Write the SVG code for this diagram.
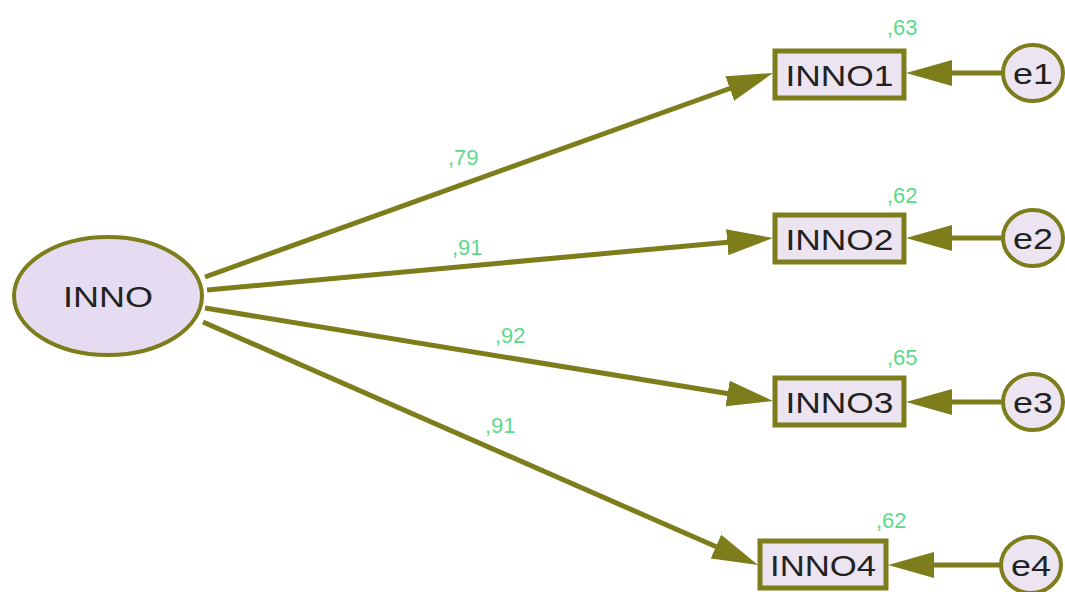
<svg xmlns="http://www.w3.org/2000/svg" width="1065" height="592" viewBox="0 0 1065 592">
<defs>
<style>
.node{stroke:#7d7d1c;fill:#ece4f0}
.lat{stroke-width:4;fill:#e6dcf2}
.obs{stroke-width:5}
.err{stroke-width:4}
.lbl{font-family:"Liberation Sans",Arial,sans-serif;fill:#222;text-anchor:middle}
.est{font-family:"Liberation Sans",Arial,sans-serif;font-size:22px;fill:#5ed98a}
.conn line{stroke:#7d7d1c;stroke-width:5;fill:none}
</style>
<marker id="ah" markerUnits="userSpaceOnUse" markerWidth="46" markerHeight="26" refX="6" refY="13" orient="auto" viewBox="0 0 46 26">
<path d="M0,0 L46,13 L0,26 Z" fill="#7d7d1c"/>
</marker>
</defs>
<rect width="1065" height="592" fill="#ffffff"/>
<g id="connectors" class="conn">
<line x1="205" y1="277" x2="735.4" y2="86.5" marker-end="url(#ah)"/>
<line x1="207" y1="290" x2="733.2" y2="241.7" marker-end="url(#ah)"/>
<line x1="205" y1="308" x2="733.5" y2="394.5" marker-end="url(#ah)"/>
<line x1="203" y1="322" x2="721.4" y2="549" marker-end="url(#ah)"/>
<line x1="1003" y1="73" x2="946" y2="73" marker-end="url(#ah)"/>
<line x1="1003" y1="238" x2="946" y2="238" marker-end="url(#ah)"/>
<line x1="1003" y1="402" x2="946" y2="402" marker-end="url(#ah)"/>
<line x1="1001" y1="565" x2="928" y2="565" marker-end="url(#ah)"/>
</g>
<g id="INNO">
<ellipse class="node lat" cx="108" cy="296" rx="94" ry="59"/>
<text class="lbl" x="108" y="307" font-size="30" textLength="90" lengthAdjust="spacingAndGlyphs">INNO</text>
</g>
<g id="INNO1">
<rect class="node obs" x="775" y="51" width="129" height="47"/>
<text class="lbl" x="839.5" y="86" font-size="30" textLength="108" lengthAdjust="spacingAndGlyphs">INNO1</text>
<text class="est" x="887" y="35">,63</text>
</g>
<g id="INNO2">
<rect class="node obs" x="775" y="215" width="129" height="47"/>
<text class="lbl" x="839.5" y="250" font-size="30" textLength="108" lengthAdjust="spacingAndGlyphs">INNO2</text>
<text class="est" x="887" y="203">,62</text>
</g>
<g id="INNO3">
<rect class="node obs" x="775" y="378" width="129" height="47"/>
<text class="lbl" x="839.5" y="413" font-size="30" textLength="108" lengthAdjust="spacingAndGlyphs">INNO3</text>
<text class="est" x="887" y="365">,65</text>
</g>
<g id="INNO4">
<rect class="node obs" x="760" y="541" width="126" height="47"/>
<text class="lbl" x="823" y="576" font-size="30" textLength="106" lengthAdjust="spacingAndGlyphs">INNO4</text>
<text class="est" x="876" y="528">,62</text>
</g>
<g id="e1">
<ellipse class="node err" cx="1033" cy="73" rx="30" ry="28"/>
<text class="lbl" x="1033" y="84" font-size="30" textLength="40" lengthAdjust="spacingAndGlyphs">e1</text>
</g>
<g id="e2">
<ellipse class="node err" cx="1033" cy="238" rx="30" ry="28"/>
<text class="lbl" x="1033" y="249" font-size="30" textLength="40" lengthAdjust="spacingAndGlyphs">e2</text>
</g>
<g id="e3">
<ellipse class="node err" cx="1033" cy="402" rx="30" ry="28"/>
<text class="lbl" x="1033" y="413" font-size="30" textLength="40" lengthAdjust="spacingAndGlyphs">e3</text>
</g>
<g id="e4">
<ellipse class="node err" cx="1031" cy="565" rx="30" ry="28"/>
<text class="lbl" x="1031" y="576" font-size="30" textLength="40" lengthAdjust="spacingAndGlyphs">e4</text>
</g>
<g id="path-labels">
<text class="est" x="448" y="165">,79</text>
<text class="est" x="452" y="255">,91</text>
<text class="est" x="495" y="343">,92</text>
<text class="est" x="485" y="433">,91</text>
</g>
</svg>
